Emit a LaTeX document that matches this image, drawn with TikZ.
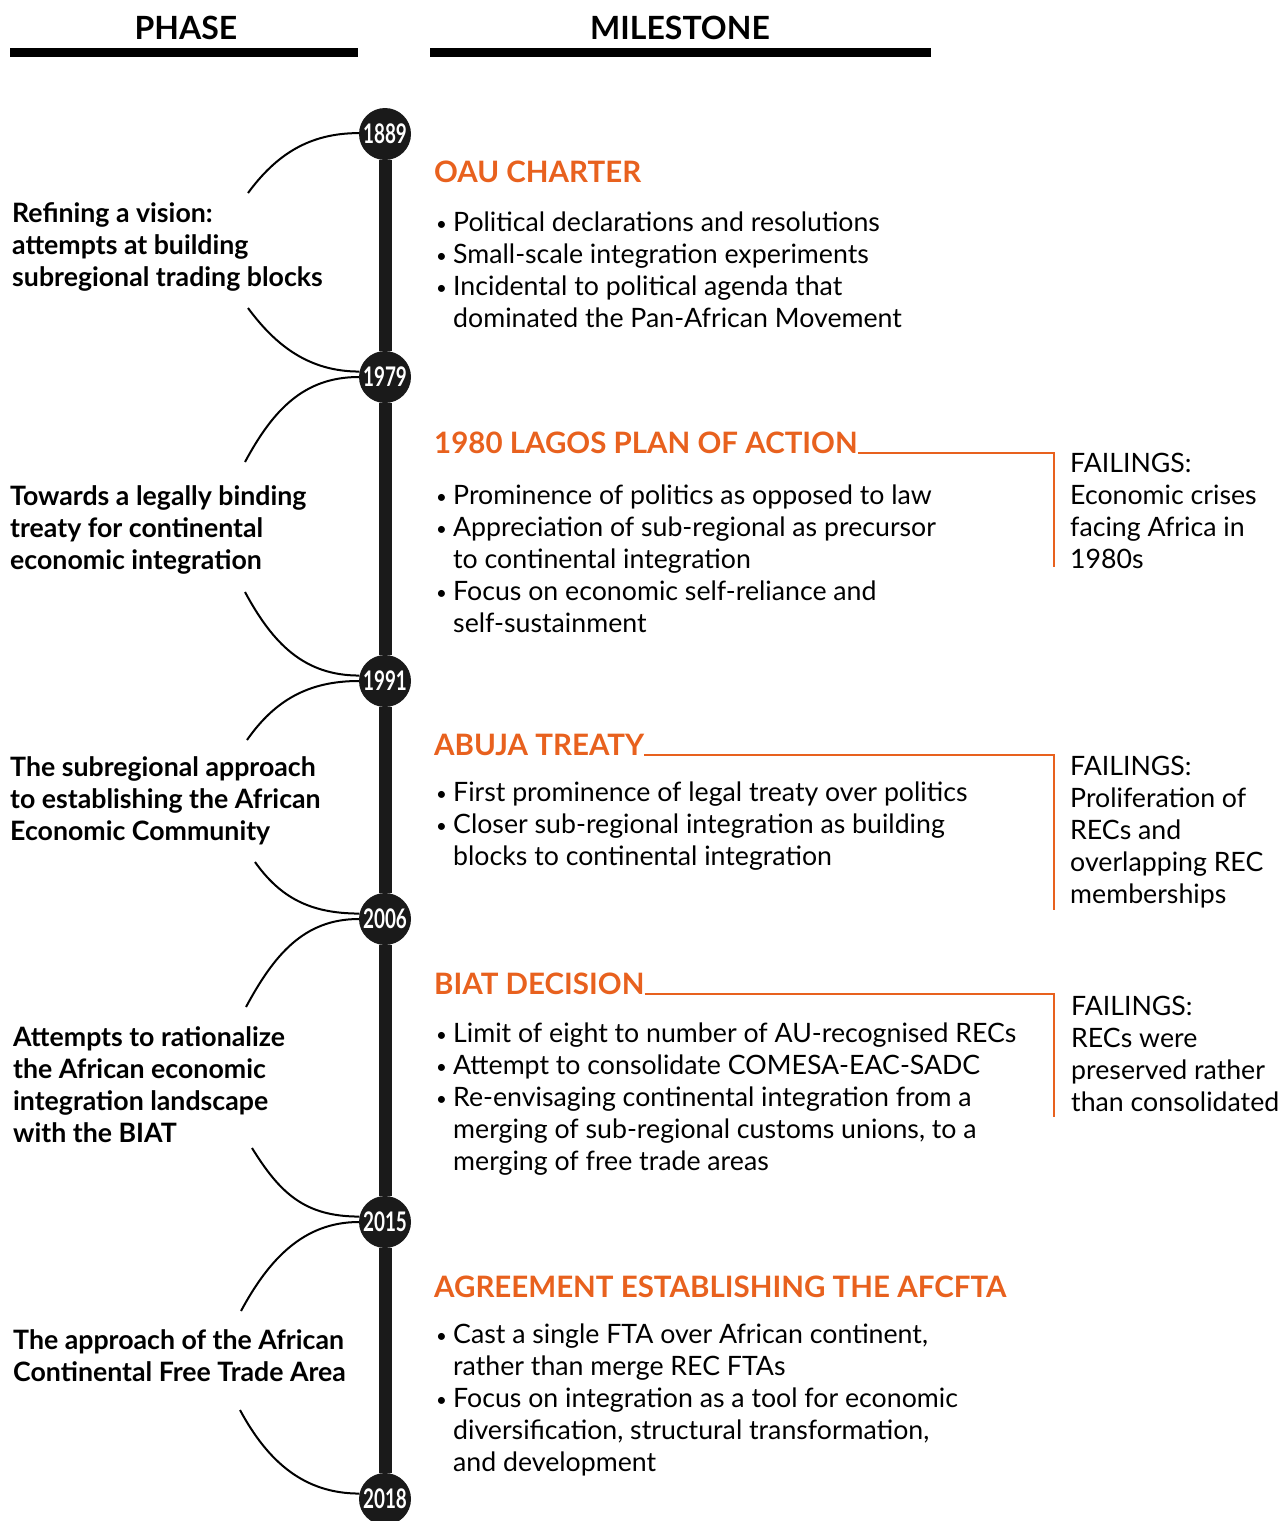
\documentclass[tikz,border=0pt]{standalone}
\usepackage{fontspec}
\setmainfont{Lato}
\usepackage{graphicx}
\usepackage{xcolor}
\usetikzlibrary{positioning}
\definecolor{mileorange}{HTML}{E8611E}
\definecolor{tlblack}{HTML}{1A1A1A}
\newcommand{\bl}{\makebox[18pt][l]{\hspace{1pt}\raisebox{1pt}{\scalebox{0.7}{\textbullet}}}}
\newcommand{\ind}{\hspace*{18pt}}
\newcommand{\yr}[1]{\scalebox{0.7}[1]{#1}}

\begin{document}
\begin{tikzpicture}[x=1pt,y=-1pt,
    every node/.style={inner sep=0pt},
    head/.style={font=\fontsize{32}{36}\selectfont\bfseries},
    year/.style={circle, fill=tlblack, minimum size=52pt, text=white, font=\fontsize{27}{27}\selectfont\bfseries},
    phasetext/.style={anchor=west, align=left, font=\fontsize{26.7}{32}\selectfont\bfseries},
    title/.style={anchor=base west, text=mileorange, font=\fontsize{29.5}{32}\selectfont\bfseries},
    bullets/.style={anchor=west, align=left, font=\fontsize{26.7}{32}\selectfont},
    failing/.style={anchor=west, align=left, font=\fontsize{26.7}{32}\selectfont},
    arc/.style={line width=2pt},
    bracket/.style={draw=mileorange, line width=2pt},
    spine/.style={line width=13pt, tlblack}]
    \useasboundingbox (0,0) rectangle (1284,1521);

    % Headers
    \node[head] (phase) at (186,28) {PHASE};
    \node[head] (milestone) at (680,28) {MILESTONE};
    \draw[line width=9pt] (10,52) -- (358,52);
    \draw[line width=9pt] (430,52) -- (931,52);

    % Years
    \node[year] (y1889) at (385,134) {\yr{1889}};
    \node[year] (y1979) at (385,377) {\yr{1979}};
    \node[year] (y1991) at (385,681) {\yr{1991}};
    \node[year] (y2006) at (385,919) {\yr{2006}};
    \node[year] (y2015) at (385,1222) {\yr{2015}};
    \node[year] (y2018) at (385,1499) {\yr{2018}};

    % Timeline
    \draw[spine] (y1889) -- (y1979);
    \draw[spine] (y1979) -- (y1991);
    \draw[spine] (y1991) -- (y2006);
    \draw[spine] (y2006) -- (y2015);
    \draw[spine] (y2015) -- (y2018);

    % Phases
    \node[phasetext] (ph1) at (12,247) {Refining a vision:\\attempts at building\\subregional trading blocks};
    \node[phasetext] (ph2) at (10,530) {Towards a legally binding\\treaty for continental\\economic integration};
    \node[phasetext] (ph3) at (10,801) {The subregional approach\\to establishing the African\\Economic Community};
    \node[phasetext] (ph4) at (13,1085) {Attempts to rationalize\\the African economic\\integration landscape\\with the BIAT};
    \node[phasetext] (ph5) at (13,1356) {The approach of the African\\Continental Free Trade Area};

    % Arcs
    \coordinate (a1t) at (248,193); \coordinate (a1b) at (248,308);
    \coordinate (a2t) at (245,462); \coordinate (a2b) at (245,592);
    \coordinate (a3t) at (247,740); \coordinate (a3b) at (255,862);
    \coordinate (a4t) at (246,1007); \coordinate (a4b) at (252,1148);
    \coordinate (a5t) at (241,1311); \coordinate (a5b) at (240,1410);
    \draw[arc] (a1t) .. controls +(28,-38) and +(-50,0) .. (y1889.178);
    \draw[arc] (a1b) .. controls +(28,38) and +(-50,0) .. (y1979.168);
    \draw[arc] (a2t) .. controls +(28,-52) and +(-55,0) .. (y1979.180);
    \draw[arc] (a2b) .. controls +(28,52) and +(-55,0) .. (y1991.168);
    \draw[arc] (a3t) .. controls +(28,-40) and +(-50,0) .. (y1991.180);
    \draw[arc] (a3b) .. controls +(25,35) and +(-50,0) .. (y2006.168);
    \draw[arc] (a4t) .. controls +(28,-52) and +(-55,0) .. (y2006.180);
    \draw[arc] (a4b) .. controls +(28,45) and +(-55,0) .. (y2015.168);
    \draw[arc] (a5t) .. controls +(28,-52) and +(-55,0) .. (y2015.180);
    \draw[arc] (a5b) .. controls +(28,52) and +(-55,0) .. (y2018.168);

    % Milestones
    \node[title] (oau) at (434,182) {OAU CHARTER};
    \node[bullets] (oaub) at (435,270) {\bl Political declarations and resolutions\\\bl Small-scale integration experiments\\\bl Incidental to political agenda that\\\ind dominated the Pan-African Movement};

    \node[title] (lagos) at (434,453) {1980 LAGOS PLAN OF ACTION};
    \node[bullets] (lagosb) at (435,559) {\bl Prominence of politics as opposed to law\\\bl Appreciation of sub-regional as precursor\\\ind to continental integration\\\bl Focus on economic self-reliance and\\\ind self-sustainment};

    \node[title] (abuja) at (434,755) {ABUJA TREATY};
    \node[bullets] (abujab) at (435,826) {\bl First prominence of legal treaty over politics\\\bl Closer sub-regional integration as building\\\ind blocks to continental integration};

    \node[title] (biat) at (434,994) {BIAT DECISION};
    \node[bullets] (biatb) at (435,1099) {\bl Limit of eight to number of AU-recognised RECs\\\bl Attempt to consolidate COMESA-EAC-SADC\\\bl Re-envisaging continental integration from a\\\ind merging of sub-regional customs unions, to a\\\ind merging of free trade areas};

    \node[title] (afcfta) at (434,1297) {AGREEMENT ESTABLISHING THE AFCFTA};
    \node[bullets] (afcftab) at (435,1400) {\bl Cast a single FTA over African continent,\\\ind rather than merge REC FTAs\\\bl Focus on integration as a tool for economic\\\ind diversification, structural transformation,\\\ind and development};

    % Failings
    \coordinate (lagosend) at (1054,567);
    \coordinate (abujaend) at (1054,910);
    \coordinate (biatend) at (1054,1117);
    \draw[bracket] (lagos.base east) -| (lagosend);
    \draw[bracket] (abuja.base east) -| (abujaend);
    \draw[bracket] (biat.base east) -| (biatend);
    \node[failing] (lagosf) at (1070,511) {FAILINGS:\\Economic crises\\facing Africa in\\1980s};
    \node[failing] (abujaf) at (1070,832) {FAILINGS:\\Proliferation of\\RECs and\\overlapping REC\\memberships};
    \node[failing] (biatf) at (1071,1054) {FAILINGS:\\RECs were\\preserved rather\\than consolidated};

\end{tikzpicture}
\end{document}
